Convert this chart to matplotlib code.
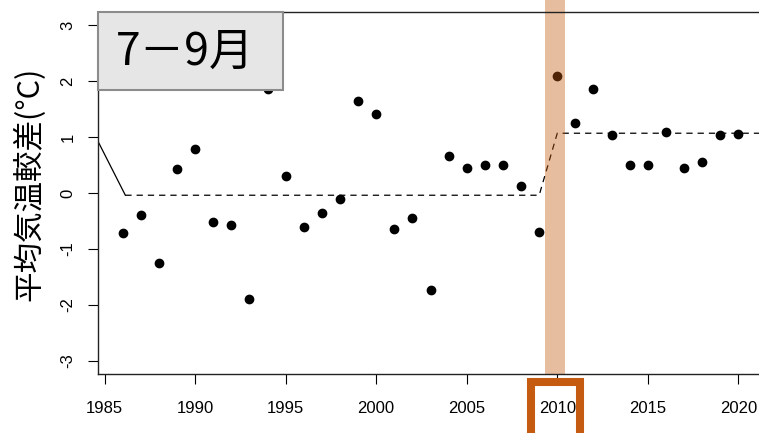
import matplotlib
matplotlib.use("Agg")
import matplotlib.pyplot as plt
from matplotlib.patches import Rectangle

plt.rcParams["axes.unicode_minus"] = False

# summer (Jul-Sep) mean temperature anomaly, one value per year
years = list(range(1986, 2021))
anomaly = [-0.71, -0.39, -1.25, 0.43, 0.79, -0.52, -0.58, -1.89, 1.87, 0.30,
           -0.60, -0.35, -0.11, 1.65, 1.41, -0.65, -0.45, -1.73, 0.66, 0.45,
           0.50, 0.50, 0.13, -0.69, 2.09, 1.26, 1.86, 1.04, 0.51, 0.51,
           1.09, 0.45, 0.55, 1.04, 1.05]

# regime means (lead-in segment, then the two levels)
lead_x = [1984.6, 1986.15]
lead_y = [0.95, -0.04]
regime_x = [1986.15, 2009, 2010, 2021.4]
regime_y = [-0.04, -0.04, 1.07, 1.07]

xticks = [1985, 1990, 1995, 2000, 2005, 2010, 2015, 2020]
yticks = [-3, -2, -1, 0, 1, 2, 3]
band = (2009.35, 2010.4)
title = "7－9月"
ylab = "平均気温較差(°C)"

W, H = 759, 433
fig = plt.figure(figsize=(W / 100, H / 100), dpi=100)
ax = fig.add_axes([98 / W, 59 / H, 665 / W, 362 / H])

ax.plot(years, anomaly, "o", color="black", ms=6, zorder=2)
ax.plot(lead_x, lead_y, "-", color="black", lw=0.9, zorder=2)
ax.plot(regime_x, regime_y, color="black", lw=0.9, ls=(0, (5, 4)), zorder=2)

# highlighted year, running up past the top of the frame
ax.add_patch(Rectangle((band[0], -3.24), band[1] - band[0], 7.0,
                       color="#C55A11", alpha=0.4, lw=0, zorder=2.4, clip_on=False))

ax.set_xlim(1984.64, 2021.36)
ax.set_ylim(-3.24, 3.24)
ax.set_xticks(xticks)
ax.set_yticks(yticks)
ax.tick_params(axis="both", length=7.2, width=0.8, labelsize=12, colors="black")
ax.tick_params(axis="x", pad=12)
ax.tick_params(axis="y", pad=9)
for lab in ax.get_yticklabels():
    lab.set_rotation(90)
    lab.set_va("center")
for lab in ax.get_xticklabels() + ax.get_yticklabels():
    lab.set_family("Liberation Sans")
for sp in ax.spines.values():
    sp.set_color("#222222")
    sp.set_linewidth(1.0)

fig.text(29 / W, 1 - 184 / H, ylab, rotation=90, ha="center", va="center",
         fontsize=22, family=["Noto Sans CJK JP", "DejaVu Sans"])

# title panel in the top-left corner
fig.add_artist(Rectangle((98 / W, 1 - 90 / H), 185 / W, 78 / H,
                         transform=fig.transFigure, facecolor="#e6e6e6",
                         edgecolor="#8c8c8c", lw=1.5, zorder=5))
fig.text(185 / W, 1 - 52 / H, title, ha="center", va="center", fontsize=32,
         family=["Noto Sans CJK JP", "DejaVu Sans"], zorder=6)

# frame around the 2010 tick label
fig.add_artist(Rectangle((530.5 / W, -10 / H), 49.5 / W, (433 - 382 + 10) / H,
                         transform=fig.transFigure, fill=False,
                         edgecolor="#C55A11", lw=5.8, zorder=5))

fig.savefig("out.png", dpi=100)
